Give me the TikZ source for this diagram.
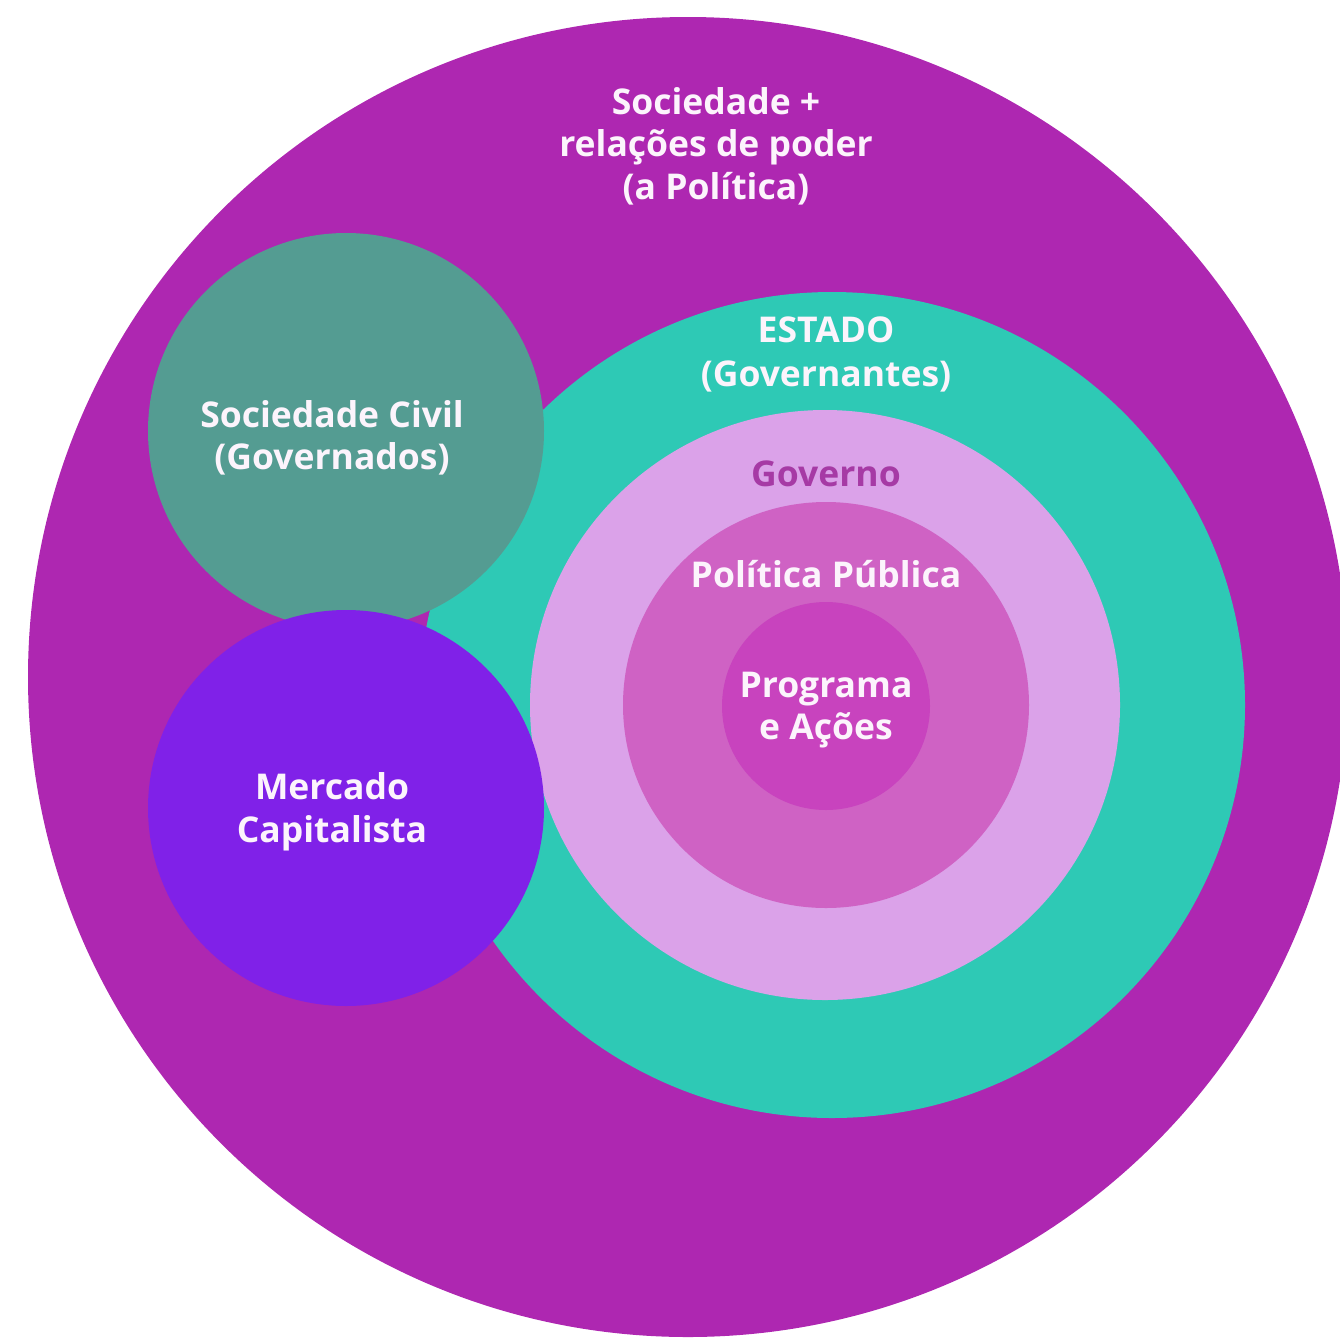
\documentclass[tikz,border=0pt]{standalone}
\usepackage{fontspec}
\setmainfont{Open Sans}
\definecolor{outerP}{HTML}{AE27B1}
\definecolor{estadoT}{HTML}{2EC9B5}
\definecolor{civilG}{HTML}{549C92}
\definecolor{mercV}{HTML}{8021E8}
\definecolor{govL}{HTML}{DBA2E9}
\definecolor{polM}{HTML}{CF62C4}
\definecolor{progP}{HTML}{C843BE}
\definecolor{govTxt}{HTML}{A63AA5}
\definecolor{txtW}{HTML}{FCF4FC}
\tikzset{
  disc/.style={circle, inner sep=0pt, outer sep=0pt, draw=none, minimum size=#1},
  lbl/.style={text=txtW, font=\bfseries\fontsize{35.5}{42.5}\selectfont, align=center, inner sep=0pt},
}
\begin{document}
\begin{tikzpicture}[x=1pt,y=-1pt]
\useasboundingbox (0,0) rectangle (1340,1339);
\begin{scope}
\clip (0,0) rectangle (1340,1339);
\node[disc=1320pt, fill=outerP] (outer) at (688,677) {};
\node[disc=826pt, fill=estadoT] (estado) at (832,705) {};
\node[disc=590pt, fill=govL] (governo) at (825,705) {};
\node[disc=406pt, fill=polM] (politica) at (826,705) {};
\node[disc=208pt, fill=progP] (programa) at (826,706) {};
\node[disc=396pt, fill=civilG] (civil) at (346,431) {};
\node[disc=396pt, fill=mercV] (mercado) at (346,808) {};
\end{scope}
\node[lbl] (tOuter) at (716,146) {Sociedade +\\relações de poder\\(a Política)};
\node[lbl, font=\bfseries\fontsize{35.5}{44}\selectfont] (tEstado) at (826,354) {ESTADO\\(Governantes)};
\node[lbl, text=govTxt] (tGov) at (826,474) {Governo};
\node[lbl] (tPol) at (826,574) {Política Pública};
\node[lbl] (tProg) at (826,710) {Programa\\e Ações};
\node[lbl] (tCivil) at (332,438) {Sociedade Civil\\(Governados)};
\node[lbl] (tMerc) at (332,812) {Mercado\\Capitalista};
\end{tikzpicture}
\end{document}
